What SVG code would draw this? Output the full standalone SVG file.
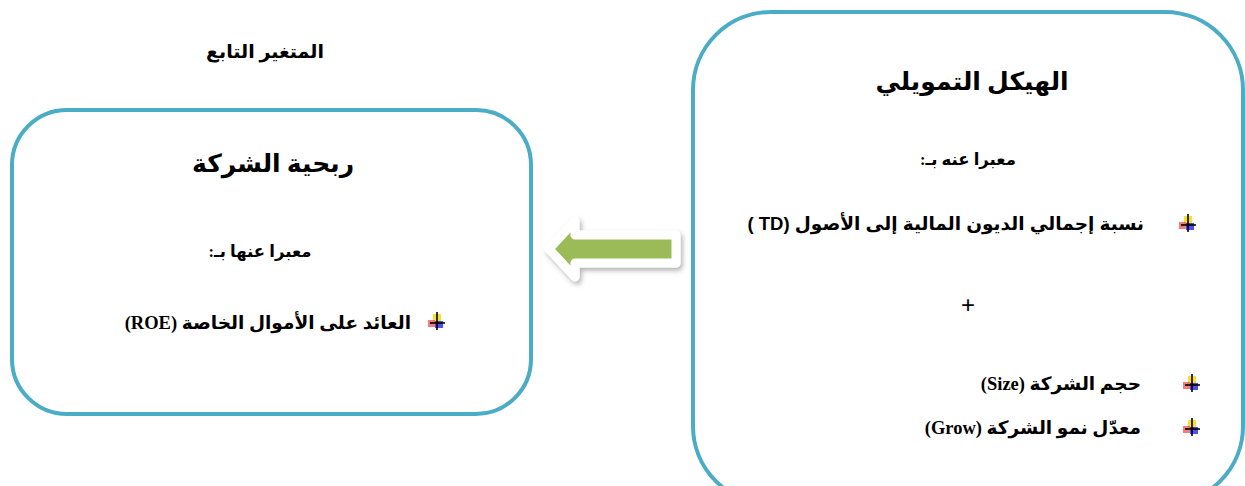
<svg xmlns="http://www.w3.org/2000/svg" width="1245" height="486" viewBox="0 0 1245 486">
  <style>
    .box { fill: #ffffff; stroke: #4BACC6; stroke-width: 4; }
    .ar { font-family: "Liberation Serif", "DejaVu Sans", serif; font-weight: bold; fill: #000; }
    .ar-sans { font-family: "Liberation Sans", "DejaVu Sans", sans-serif; font-weight: bold; fill: #000; }
    .title { font-size: 25px; }
    .sub { font-size: 16.5px; }
    .item { font-size: 18.5px; }
    .plus { font-family: "Liberation Sans", sans-serif; font-weight: normal; font-size: 24px; fill: #000; }
  </style>
  <defs>
    <filter id="shadow" x="-20%" y="-30%" width="140%" height="170%">
      <feDropShadow dx="2" dy="3" stdDeviation="2.5" flood-color="#000" flood-opacity="0.3"/>
    </filter>
    <!-- small four-colour bullet glyph -->
    <g id="bullet">
      <rect x="-4" y="-8" width="8" height="8" fill="#F5D90A" opacity="0.85"/>
      <rect x="-9" y="-2" width="7" height="7" fill="#EE4444" opacity="0.7"/>
      <rect x="-2" y="-1" width="8" height="7" fill="#2222EE" opacity="0.8"/>
      <line x1="0" y1="-10" x2="0" y2="8" stroke="#000" stroke-width="1.6"/>
      <line x1="-7" y1="1" x2="8" y2="1" stroke="#000" stroke-width="1.6"/>
    </g>
  </defs>

  <!-- heading above the dependent-variable box -->
  <text class="ar" x="265" y="58" font-size="19" text-anchor="middle" direction="rtl">المتغير التابع</text>

  <!-- dependent variable -->
  <g id="node-profitability">
    <rect class="box" x="12" y="110" width="519" height="304" rx="55" ry="55"/>
    <text class="ar title" x="273" y="172" text-anchor="middle" direction="rtl">ربحية الشركة</text>
    <text class="ar sub" x="260" y="257" text-anchor="middle" direction="rtl">معبرا عنها بـ:</text>
    <use href="#bullet" x="437" y="322"/>
    <text class="ar item" x="411" y="329" text-anchor="start" direction="rtl">العائد على الأموال الخاصة (ROE)</text>
  </g>

  <!-- independent variable -->
  <g id="node-capital-structure">
    <rect class="box" x="693" y="12" width="550" height="492" rx="78" ry="78"/>
    <text class="ar title" x="972" y="90" text-anchor="middle" direction="rtl">الهيكل التمويلي</text>
    <text class="ar sub" x="968" y="165" text-anchor="middle" direction="rtl">معبرا عنه بـ:</text>
    <use href="#bullet" x="1188" y="224"/>
    <text class="ar-sans item" x="1144" y="230" text-anchor="start" direction="rtl">نسبة إجمالي الديون المالية إلى الأصول (TD )</text>
    <text class="plus" x="968" y="313" text-anchor="middle">+</text>
    <use href="#bullet" x="1192" y="384"/>
    <text class="ar item" x="1141" y="390" text-anchor="start" direction="rtl">حجم الشركة (Size)</text>
    <use href="#bullet" x="1192" y="428"/>
    <text class="ar item" x="1141" y="434" text-anchor="start" direction="rtl">معدّل نمو الشركة (Grow)</text>
  </g>

  <!-- connector: block arrow pointing from the capital structure to profitability -->
  <g id="connectors">
    <path d="M549,249 L575,221 L575,235 L676,235 L676,263 L575,263 L575,277 Z"
          fill="#9BBB59" stroke="#ffffff" stroke-width="9" stroke-linejoin="round" filter="url(#shadow)"/>
  </g>
</svg>
